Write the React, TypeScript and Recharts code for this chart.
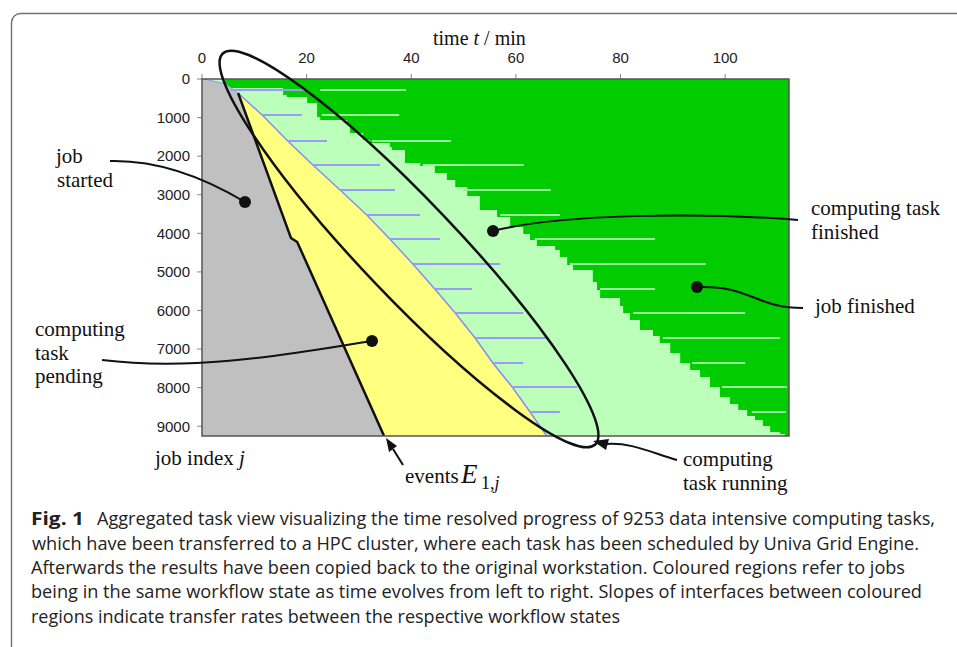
import React from 'react';
import {
  ComposedChart,
  Area,
  Line,
  XAxis,
  YAxis,
  CartesianGrid,
  ReferenceLine
} from 'recharts';

// job started boundary (grey | yellow), job index j vs time t in minutes
const startedJ = [0, 130, 363, 4121, 4225, 9253];
const startedT = [0, 4.4, 6.9, 17.0, 18.2, 34.8];

// computing task running starts (yellow | light green)
const runningJ = [0, 130, 415, 933, 1607, 2229, 2877, 3525, 4147, 4795, 5443, 6065, 6713, 7361, 7983, 8631, 9253];
const runningT = [0, 4.4, 7.3, 11.5, 16.4, 21.2, 26.4, 31.5, 35.9, 40.3, 44.5, 48.4, 52.2, 55.6, 59.3, 62.7, 65.9];

// computing task finished (light green | dark green), staircase
const finishedJ = [
  0, 130, 233, 415, 467, 622, 985, 1063, 1192, 1400, 1581, 1659, 1762, 1840, 2177, 2255, 2436, 2618,
  2799, 3033, 3395, 3577, 3836, 4017, 4173, 4328, 4432, 4614, 4821, 4951, 5262, 5469, 5676, 5884,
  6065, 6247, 6506, 6661, 6843, 7102, 7361, 7542, 7724, 7983, 8242, 8424, 8579, 8735, 8838, 8994,
  9150, 9201, 9253
];
const finishedT = [
  4.4, 4.4, 15.5, 16.2, 20.1, 22.0, 22.6, 27.7, 28.3, 30.8, 32.1, 35.9, 36.3, 38.8, 41.7, 44.5, 46.8, 48.4,
  50.7, 53.1, 56.4, 58.9, 61.4, 62.7, 64.0, 67.5, 68.4, 69.8, 70.9, 74.7, 75.5, 76.1, 79.9, 80.5,
  81.8, 83.7, 86.2, 87.5, 89.5, 91.4, 93.3, 95.2, 97.1, 99.0, 100.9, 102.5, 104.2, 105.7, 107.2, 108.6,
  110.5, 111.4, 112.2
];

// single long jobs: rows j with [from, to] minutes
const rowJ = [285, 933, 1607, 2229, 2877, 3525, 4147, 4795, 5443, 6065, 6713, 7361, 7983, 8631];
const runFrom = [5.4, 11.5, 16.4, 21.2, 26.4, 31.5, 35.9, 40.3, 44.5, 48.4, 52.2, 55.6, 59.3, 62.7];
const runTo = [20.1, 19.1, 23.9, 34.0, 36.9, 41.7, 45.5, 57.0, 51.6, 61.4, 65.9, 61.4, 71.7, 68.4];
const doneFrom = [22.6, 22.9, 32.5, 42.2, 49.9, 57.0, 63.6, 70.3, 76.1, 82.4, 88.1, 93.7, 99.4, 105.1];
const doneTo = [39.0, 37.7, 47.6, 61.5, 66.7, 68.4, 86.6, 96.3, 86.6, 103.8, 110.5, 103.8, 111.8, 111.6];

const xTicks = [0, 20, 40, 60, 80, 100];
const yTicks = [0, 1000, 2000, 3000, 4000, 5000, 6000, 7000, 8000, 9000];

const zip = (js: number[], ts: number[]) => js.map((j, i) => ({ j, t: ts[i] }));
const startedRows = zip(startedJ, startedT);
const eventRows = startedRows.slice(2);
const runningRows = zip(runningJ, runningT);
const finishedRows = zip(finishedJ, finishedT);

const serif = '"Liberation Serif", "Times New Roman", serif';
const sans = '"Liberation Sans", Arial, sans-serif';
const capFont = '"Open Sans", "Noto Sans", sans-serif';

const tickStyle = { fontSize: 15, fill: '#222', fontFamily: sans };

const Overlay = () => (
  <svg
    width={957}
    height={647}
    style={{ position: 'absolute', left: 0, top: 0, pointerEvents: 'none' }}
  >
    {/* figure frame */}
    <rect x={11.5} y={13.5} width={1000} height={700} rx={9} fill="none" stroke="#707070" strokeWidth={1.4} />
    {/* plot border */}
    <rect x={202} y={79} width={587} height={357} fill="none" stroke="#555" strokeWidth={1.5} />

    <text x={433} y={45} fontFamily={serif} fontSize={20} fill="#111">
      time <tspan fontStyle="italic">t</tspan> / min
    </text>

    {/* ellipse around the running region */}
    <ellipse cx={409} cy={249} rx={270} ry={48} transform="rotate(46.4 409 249)" fill="none" stroke="#111" strokeWidth={2.5} />

    {/* callouts */}
    <g fill="none" stroke="#111" strokeWidth={2}>
      <path d="M110,161 C150,160 195,172 245,202" />
      <path d="M102,360 C200,372 300,352 372,341" />
      <path d="M493,231 C560,214 700,212 798,220" />
      <path d="M697,287 C750,285 755,308 803,308" />
      <path d="M677,460 C650,452 630,442 606,444" />
      <path d="M403,465 L393,449" />
    </g>
    <g fill="#111">
      <circle cx={245} cy={202} r={6} />
      <circle cx={372} cy={341} r={6} />
      <circle cx={493} cy={231} r={6} />
      <circle cx={697} cy={287} r={6} />
      <polygon points="593,441 609,439 606,450" />
      <polygon points="386,438 397,446 389,452" />
    </g>

    <g fontFamily={serif} fontSize={21} fill="#111">
      <text x={56} y={163}>job</text>
      <text x={57} y={187}>started</text>
      <text x={35} y={336}>computing</text>
      <text x={35} y={360}>task</text>
      <text x={35} y={383}>pending</text>
      <text x={811} y={215}>computing task</text>
      <text x={811} y={239}>finished</text>
      <text x={815} y={313}>job finished</text>
      <text x={683} y={466}>computing</text>
      <text x={683} y={490}>task running</text>
      <text x={155} y={465}>
        job index <tspan fontStyle="italic">j</tspan>
      </text>
      <text x={405} y={483}>events</text>
      <text x={461} y={483} fontSize={27} fontStyle="italic">E</text>
      <text x={481} y={489} fontSize={18}>
        1,<tspan fontStyle="italic">j</tspan>
      </text>
    </g>

    {/* caption */}
    <g fontFamily={capFont} fontSize={18.5} fill="#222">
      <text x={31} y={525} fontWeight="bold" textLength={53} lengthAdjust="spacingAndGlyphs">Fig. 1</text>
      <text x={97} y={525} textLength={838} lengthAdjust="spacingAndGlyphs">
        Aggregated task view visualizing the time resolved progress of 9253 data intensive computing tasks,
      </text>
      <text x={32} y={549.5} textLength={887} lengthAdjust="spacingAndGlyphs">
        which have been transferred to a HPC cluster, where each task has been scheduled by Univa Grid Engine.
      </text>
      <text x={31} y={574} textLength={874} lengthAdjust="spacingAndGlyphs">
        Afterwards the results have been copied back to the original workstation. Coloured regions refer to jobs
      </text>
      <text x={31} y={598} textLength={891} lengthAdjust="spacingAndGlyphs">
        being in the same workflow state as time evolves from left to right. Slopes of interfaces between coloured
      </text>
      <text x={31} y={622.5} textLength={589} lengthAdjust="spacingAndGlyphs">
        regions indicate transfer rates between the respective workflow states
      </text>
    </g>
  </svg>
);

export default function App() {
  return (
    <div style={{ position: 'absolute', left: 0, top: 0, width: 957, height: 647, background: '#fff' }}>
      <div style={{ position: 'absolute', left: 0, top: 0 }}>
        <ComposedChart
          width={957}
          height={647}
          layout="vertical"
          margin={{ top: 49, right: 168, bottom: 211, left: 142 }}
        >
          <CartesianGrid horizontal={false} vertical={false} fill="#00CC00" />
          <XAxis
            type="number"
            orientation="top"
            height={30}
            domain={[0, 112.2]}
            allowDataOverflow
            ticks={xTicks}
            axisLine={false}
            tickSize={5}
            tickMargin={11}
            tickLine={{ stroke: '#888' }}
            tick={tickStyle}
          />
          <YAxis
            type="number"
            dataKey="j"
            width={60}
            domain={[0, 9253]}
            allowDataOverflow
            ticks={yTicks}
            axisLine={false}
            tickSize={5}
            tickMargin={7}
            tickLine={{ stroke: '#888' }}
            tick={tickStyle}
          />
          <Area
            data={finishedRows}
            dataKey="t"
            type="stepBefore"
            fill="#BBFFBB"
            fillOpacity={1}
            stroke="none"
            isAnimationActive={false}
          />
          <Area
            data={runningRows}
            dataKey="t"
            type="linear"
            fill="#FFFF80"
            fillOpacity={1}
            stroke="#8A8AF5"
            strokeWidth={1.5}
            isAnimationActive={false}
          />
          <Area
            data={startedRows}
            dataKey="t"
            type="linear"
            fill="#C0C0C0"
            fillOpacity={1}
            stroke="none"
            isAnimationActive={false}
          />
          {rowJ.map((j, i) => (
            <ReferenceLine
              key={`run-${i}`}
              segment={[{ x: runFrom[i], y: j }, { x: runTo[i], y: j }]}
              stroke="#9A9AF8"
              strokeWidth={2}
              ifOverflow="visible"
            />
          ))}
          {rowJ.map((j, i) => (
            <ReferenceLine
              key={`done-${i}`}
              segment={[{ x: doneFrom[i], y: j }, { x: doneTo[i], y: j }]}
              stroke="#9BEE9B"
              strokeWidth={2}
              ifOverflow="visible"
            />
          ))}
          <Line
            data={eventRows}
            dataKey="t"
            type="linear"
            stroke="#111"
            strokeWidth={2.5}
            dot={false}
            isAnimationActive={false}
          />
        </ComposedChart>
      </div>
      <Overlay />
    </div>
  );
}
